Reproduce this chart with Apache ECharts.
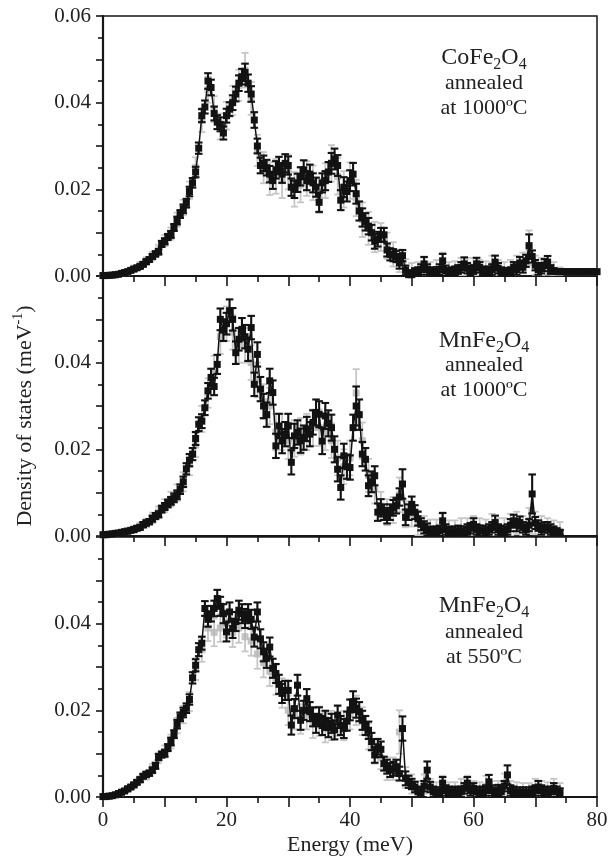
<!DOCTYPE html>
<html>
<head>
<meta charset="utf-8">
<script src="https://cdn.jsdelivr.net/npm/echarts@6/dist/echarts.min.js"></script>
<style>
  html, body { margin: 0; padding: 0; background: #fff; }
  #dos { width: 611px; height: 857px; }
</style>
</head>
<body>
<div id="dos"></div>
<script>
// density of states, in 1e-3 meV^-1; black points every 0.5 meV, gray every 1 meV
// errors are in 1e-4 meV^-1
const BLACK_STEP = 0.5
const GRAY_STEP = 1

// CoFe2O4 annealed at 1000ºC (0 .. 80 meV)
const coBlack = [
  0.1,0.1,0.15,0.2,0.3,0.4,0.6,0.8,1.0,1.3,1.6,1.9,2.2,2.7,3.3,3.8,4.5,5.1,5.6,7.4,
  8.0,9.0,9.6,11.2,12.8,14.3,15.5,16.8,19.5,21.5,24.0,29.5,37.0,39.0,45.0,43.5,37.5,35.5,35.0,33.0,
  37.0,38.5,40.0,42.0,44.5,46.0,47.0,44.5,42.0,36.0,30.0,25.5,26.0,25.0,23.5,22.0,24.5,25.5,23.5,26.0,
  25.5,20.5,20.0,21.5,23.0,24.5,22.0,23.5,21.5,20.5,17.0,21.5,22.0,24.0,26.0,27.0,25.5,17.5,20.5,19.5,
  22.0,23.5,19.0,15.0,13.5,12.5,11.5,10.0,8.0,8.5,9.5,9.5,6.0,5.0,4.8,4.5,3.0,4.7,1.3,0.3,
  0.3,0.8,1.0,1.5,2.8,1.5,0.8,1.0,1.0,1.5,3.5,1.2,0.8,1.0,1.2,1.5,2.0,2.8,1.8,1.2,
  1.5,2.8,2.0,1.2,1.0,1.2,1.5,3.2,1.8,1.0,0.8,0.8,1.0,2.0,1.5,3.0,2.0,3.5,7.0,4.5,
  2.5,1.5,1.8,2.5,3.2,1.5,1.2,1.0,1.0,1.0,1.0,1.0,1.0,1.0,1.0,1.0,1.0,1.0,1.0,1.0,1.0
]
const coBlackErr = [
  2,2,2,2,2,3,3,3,3,4,4,4,4,5,5,5,5,6,6,7,
  7,7,8,8,9,9,10,10,11,11,12,13,15,15,18,18,16,16,16,15,
  16,16,17,17,18,18,20,20,18,18,17,18,18,18,19,19,20,20,20,21,
  21,20,20,21,21,22,22,22,22,22,22,22,22,23,24,24,24,23,23,23,
  24,26,23,22,21,20,19,18,17,17,16,16,15,14,14,13,13,13,11,10,
  10,10,10,12,16,12,10,10,10,12,16,12,10,10,10,10,12,15,12,10,
  10,14,12,10,10,10,12,15,12,10,10,10,10,12,12,14,12,14,26,14,
  12,12,12,14,14,10,6,4,3,3,3,3,3,3,3,3,3,3,3,3,3
]
const coGray = [
  0.1,0.2,0.3,0.6,1.0,1.7,2.4,3.4,4.6,6.0,
  8.2,9.8,13.0,15.8,19.8,25.0,36.0,43.0,38.5,34.5,
  37.0,40.5,44.0,47.5,41.0,29.0,25.0,22.5,23.0,22.0,
  24.0,20.0,21.0,22.5,21.5,18.5,22.0,26.0,23.0,20.0,
  22.0,18.0,13.0,11.0,9.0,9.0,7.0,5.0,3.5,1.5,
  0.8,1.0,2.0,1.0,1.5,3.0,1.0,1.2,2.0,2.0,
  2.0,1.5,1.2,2.5,1.5,1.0,1.5,2.5,3.0,6.5,
  2.5,2.0,2.5,1.2,1.0,1.0,1.0,1.0,1.0,1.0,1.0
]
const coGrayErr = [
  3,3,4,5,6,7,8,9,10,12,
  13,14,16,18,20,24,28,30,30,30,
  32,34,36,40,38,36,36,38,40,40,
  40,40,40,40,40,40,40,42,42,42,
  42,42,40,38,35,32,30,28,26,24,
  22,22,22,22,22,24,22,22,22,22,
  22,22,22,22,22,22,22,22,24,40,
  22,22,22,20,10,4,4,4,4,4,4
]

// MnFe2O4 annealed at 1000ºC (0 .. 74 meV)
const mnHotBlack = [
  0.3,0.3,0.4,0.5,0.6,0.7,0.8,1.0,1.1,1.3,1.5,1.8,2.0,2.6,3.0,3.3,4.0,4.6,5.0,6.2,
  6.8,7.5,8.1,8.8,9.5,10.8,12.5,15.5,17.5,18.9,22.5,25.8,26.5,29.6,33.5,36.6,34.5,39.6,50.0,47.5,
  49.0,52.0,50.0,42.3,45.4,47.7,46.0,43.1,48.1,35.0,41.9,33.9,30.0,28.0,35.8,33.1,20.8,25.4,21.9,23.5,
  25.4,17.0,23.1,23.9,22.0,22.7,24.7,23.5,26.2,28.5,28.1,21.9,27.7,26.0,25.0,20.0,15.4,11.2,18.5,16.0,
  15.8,25.0,30.0,28.0,18.9,17.7,11.6,12.5,13.9,5.5,6.5,5.5,4.7,5.5,6.5,7.0,9.0,12.0,4.3,5.5,
  7.3,5.5,4.0,2.7,2.0,1.5,1.0,0.8,1.0,1.2,3.5,1.5,1.0,0.8,1.0,1.2,1.0,1.0,1.5,1.8,
  2.7,1.5,1.2,1.2,1.0,1.5,2.0,3.1,1.5,1.2,1.0,1.5,2.5,3.5,2.5,3.1,2.0,1.5,2.5,9.7,
  3.0,2.4,1.5,2.0,2.0,1.5,1.2,1.0,0.8
]
const mnHotBlackErr = [
  2,2,2,3,3,3,3,4,4,4,5,5,5,6,6,6,7,7,7,8,
  8,9,9,10,10,11,12,13,14,14,15,16,16,17,18,20,20,22,25,25,
  25,26,26,26,26,26,27,27,27,27,28,28,28,28,28,28,28,28,28,28,
  28,28,28,28,28,28,28,28,28,30,30,30,30,30,30,30,28,28,28,28,
  28,30,45,35,28,26,24,24,22,20,20,18,18,18,18,18,20,34,18,18,
  18,16,16,14,14,14,12,12,12,12,18,12,12,12,12,12,12,12,12,12,
  14,12,12,12,12,12,12,16,12,12,12,12,14,14,14,14,12,12,14,45,
  14,12,12,12,12,12,10,8,6
]
const mnHotGray = [
  0.3,0.4,0.6,0.9,1.2,1.5,2.2,3.0,4.2,5.5,
  7.0,8.5,10.0,12.5,16.5,21.0,27.0,33.0,38.0,46.0,
  49.0,47.0,44.0,44.0,40.0,36.0,31.0,30.0,24.0,24.0,
  22.0,22.5,23.0,24.0,25.0,25.0,24.0,22.0,18.0,16.0,
  18.0,33.0,22.0,14.0,11.0,7.0,5.5,6.0,9.5,5.0,
  5.0,3.0,2.0,1.2,1.2,2.5,1.0,1.0,1.5,1.5,
  2.0,1.5,1.2,2.5,1.5,1.5,2.5,3.0,2.0,3.5,
  3.0,2.0,1.5,1.2,1.0
]
const mnHotGrayErr = [
  3,4,5,6,7,8,9,10,12,13,
  15,17,19,22,25,28,30,34,36,40,
  40,40,40,40,40,40,40,42,42,42,
  42,42,42,42,42,42,42,40,40,40,
  40,55,42,38,35,32,30,30,40,30,
  28,28,26,26,26,30,26,26,26,26,
  26,26,26,26,26,26,26,26,26,30,
  26,26,26,24,22
]

// MnFe2O4 annealed at 550ºC (0 .. 74 meV)
const mnColdBlack = [
  0.1,0.1,0.2,0.3,0.5,0.8,1.1,1.4,1.9,2.3,2.8,3.4,4.0,4.8,5.2,5.5,6.2,7.2,9.2,9.8,
  10.1,11.4,12.8,14.5,16.8,18.5,19.5,20.5,22.5,27.5,30.4,34.0,35.5,43.5,41.0,42.3,43.5,45.8,44.0,42.3,
  38.1,42.7,38.9,40.5,43.1,42.3,41.2,42.3,41.0,36.9,42.7,36.5,33.5,32.0,34.6,29.7,28.5,26.0,23.9,24.6,
  24.6,16.6,20.4,25.8,17.7,20.0,22.7,19.7,18.5,17.0,18.5,16.5,17.7,16.0,17.0,15.5,18.9,16.5,15.8,17.5,
  20.1,22.0,20.5,19.7,17.7,16.5,15.4,12.8,9.7,11.6,11.0,7.7,7.0,6.2,6.5,7.0,5.4,15.8,4.3,3.5,
  3.0,2.3,1.2,1.0,2.5,6.2,2.3,1.2,1.0,1.0,3.2,1.5,1.2,1.0,1.2,1.0,1.2,2.0,3.2,1.5,
  2.0,1.2,1.0,1.2,1.5,3.5,1.5,1.0,1.6,1.2,2.5,5.1,1.5,1.2,1.0,1.0,1.0,1.0,1.0,1.2,
  1.5,2.3,1.5,1.2,1.0,1.2,2.0,1.2,1.0
]
const mnColdBlackErr = [
  2,2,2,2,3,3,3,3,4,4,4,5,5,5,6,6,6,7,7,7,
  8,8,9,9,10,10,11,11,12,13,14,15,15,17,17,18,18,20,22,22,
  22,22,22,22,22,22,22,22,22,22,22,22,22,22,22,22,22,22,22,22,
  22,22,22,24,22,22,22,22,22,22,22,22,22,22,22,22,22,22,22,22,
  24,24,22,22,22,22,20,20,18,18,18,16,16,16,16,16,16,28,16,14,
  12,12,12,12,12,20,12,12,12,12,14,12,12,12,12,12,12,12,14,12,
  12,12,12,12,12,16,12,12,12,12,12,22,12,12,12,12,12,12,12,12,
  12,14,12,12,12,12,12,12,10
]
const mnColdGray = [
  0.1,0.2,0.5,1.0,1.8,2.8,4.0,5.0,6.5,9.0,
  10.5,12.8,16.5,19.0,22.0,29.5,34.0,39.0,38.0,39.0,
  40.0,38.0,39.0,37.0,36.0,33.0,31.0,29.0,27.0,24.0,
  20.0,19.0,18.0,19.0,17.0,17.5,16.0,16.5,17.5,16.5,
  19.0,20.0,17.5,14.0,10.5,9.0,6.5,6.5,15.0,4.5,
  3.0,1.5,3.0,2.0,1.2,2.5,1.2,1.2,2.0,2.5,
  1.5,1.2,2.5,1.5,1.5,3.0,1.5,1.2,1.0,1.0,
  2.0,1.5,1.2,2.0,1.2
]
const mnColdGrayErr = [
  3,3,4,5,6,7,8,10,11,12,
  14,16,18,20,22,25,28,30,32,32,
  32,34,34,34,34,34,34,34,34,34,
  34,34,34,34,34,34,34,34,34,34,
  34,34,32,30,28,26,26,26,50,24,
  22,22,22,22,22,24,22,22,22,24,
  22,22,24,22,22,24,22,22,22,22,
  22,22,22,22,20
]

const panels = [
  { black: coBlack, blackErr: coBlackErr, gray: coGray, grayErr: coGrayErr,
    formula: ['Co', 'Fe', '2', 'O', '4'], temp: 'at 1000ºC', textY: [58, 83, 108] },
  { black: mnHotBlack, blackErr: mnHotBlackErr, gray: mnHotGray, grayErr: mnHotGrayErr,
    formula: ['Mn', 'Fe', '2', 'O', '4'], temp: 'at 1000ºC', textY: [341, 365, 390] },
  { black: mnColdBlack, blackErr: mnColdBlackErr, gray: mnColdGray, grayErr: mnColdGrayErr,
    formula: ['Mn', 'Fe', '2', 'O', '4'], temp: 'at 550ºC', textY: [606, 632, 657] }
]

const FONT = 'Liberation Serif'
const INK = '#161616'
const gridTops = [16, 276, 537]
const gridH = 260

function toPoints(vals, errs, step) {
  return vals.map((v, i) => [i * step, v, (errs[i] || 0) / 10])
}

function errorBars(color, width, half) {
  return function (params, api) {
    const x = api.value(0)
    const y = api.value(1)
    const e = api.value(2)
    const top = api.coord([x, y + e])
    const bot = api.coord([x, Math.max(y - e, 0)])
    const st = { stroke: color, lineWidth: width }
    return {
      type: 'group',
      children: [
        { type: 'line', shape: { x1: top[0], y1: top[1], x2: bot[0], y2: bot[1] }, style: st },
        { type: 'line', shape: { x1: top[0] - half, y1: top[1], x2: top[0] + half, y2: top[1] }, style: st },
        { type: 'line', shape: { x1: bot[0] - half, y1: bot[1], x2: bot[0] + half, y2: bot[1] }, style: st }
      ]
    }
  }
}

let myChart = echarts.init(document.getElementById('dos'))

let grids = []
let xAxes = []
let yAxes = []
let series = []
let graphics = []

panels.forEach((p, i) => {
  const last = i === panels.length - 1
  grids.push({
    left: 103, width: 494, top: gridTops[i], height: gridH,
    show: true, borderColor: INK, borderWidth: 1.5
  })
  xAxes.push({
    gridIndex: i, type: 'value', min: 0, max: 80, interval: 10,
    axisLine: { lineStyle: { color: INK, width: 2.2 } },
    axisTick: { length: 10, lineStyle: { color: INK, width: 1.6 } },
    minorTick: { show: true, splitNumber: 2, length: 6, lineStyle: { color: INK, width: 1.6 } },
    splitLine: { show: false },
    axisLabel: {
      show: last, margin: 13, fontFamily: FONT, fontSize: 21, color: '#222',
      formatter: v => (v % 20 === 0 ? String(v) : '')
    }
  })
  yAxes.push({
    gridIndex: i, type: 'value', min: 0, max: 60, interval: 10,
    axisLine: { lineStyle: { color: INK, width: 2.2 } },
    axisTick: { length: 7, lineStyle: { color: INK, width: 1.6 } },
    minorTick: { show: true, splitNumber: 2, length: 5, lineStyle: { color: INK, width: 1.6 } },
    splitLine: { show: false },
    axisLabel: {
      margin: 12, fontFamily: FONT, fontSize: 21, color: '#222',
      formatter: v => {
        const r = Math.round(v)
        if (r % 20 !== 0) return ''
        if (r === 60 && i > 0) return ''
        return (r / 1000).toFixed(2)
      }
    }
  })

  const grayPts = toPoints(p.gray, p.grayErr, GRAY_STEP)
  const blackPts = toPoints(p.black, p.blackErr, BLACK_STEP)

  series.push({
    type: 'custom', xAxisIndex: i, yAxisIndex: i, z: 1, clip: true,
    renderItem: errorBars('#c6c6c6', 1.8, 3.5),
    encode: { x: 0, y: 1 },
    data: grayPts
  })
  series.push({
    type: 'scatter', xAxisIndex: i, yAxisIndex: i, z: 2,
    symbol: 'rect', symbolSize: 7,
    itemStyle: { color: '#b5b5b5' },
    data: grayPts.map(d => [d[0], d[1]])
  })
  series.push({
    type: 'custom', xAxisIndex: i, yAxisIndex: i, z: 3, clip: true,
    renderItem: errorBars('#121212', 2.1, 3.8),
    encode: { x: 0, y: 1 },
    data: blackPts
  })
  series.push({
    type: 'line', xAxisIndex: i, yAxisIndex: i, z: 4,
    symbol: 'rect', symbolSize: 7, showSymbol: true,
    lineStyle: { color: '#121212', width: 1.5 },
    itemStyle: { color: '#121212' },
    data: blackPts.map(d => [d[0], d[1]])
  })

  // sample label, three lines
  const f = p.formula
  graphics.push({
    type: 'text', x: 484, y: p.textY[0],
    style: {
      text: '{m|' + f[0] + f[1] + '}{s|' + f[2] + '}{m|' + f[3] + '}{s|' + f[4] + '}',
      align: 'center', verticalAlign: 'middle',
      rich: {
        m: { fontFamily: FONT, fontSize: 24, lineHeight: 30, verticalAlign: 'middle', fill: '#222' },
        s: { fontFamily: FONT, fontSize: 16, lineHeight: 15, verticalAlign: 'bottom', fill: '#222' }
      }
    }
  })
  graphics.push({
    type: 'text', x: 484, y: p.textY[1],
    style: { text: 'annealed', font: '22px "' + FONT + '"', fill: '#222', align: 'center', verticalAlign: 'middle' }
  })
  graphics.push({
    type: 'text', x: 484, y: p.textY[2],
    style: { text: p.temp, font: '22px "' + FONT + '"', fill: '#222', align: 'center', verticalAlign: 'middle' }
  })
})

graphics.push({
  type: 'text', x: 350, y: 845,
  style: { text: 'Energy (meV)', font: '22px "' + FONT + '"', fill: '#222', align: 'center', verticalAlign: 'middle' }
})
graphics.push({
  type: 'text', x: 25, y: 416, rotation: Math.PI / 2,
  style: {
    text: '{a|Density of states (meV}{u|-1}{a|)}',
    align: 'center', verticalAlign: 'middle',
    rich: {
      a: { fontFamily: FONT, fontSize: 22, lineHeight: 28, verticalAlign: 'middle', fill: '#222' },
      u: { fontFamily: FONT, fontSize: 14, lineHeight: 14, verticalAlign: 'top', fill: '#222' }
    }
  }
})

myChart.setOption({
  animation: false,
  backgroundColor: '#fff',
  grid: grids,
  xAxis: xAxes,
  yAxis: yAxes,
  series: series,
  graphic: graphics
})
</script>
</body>
</html>
